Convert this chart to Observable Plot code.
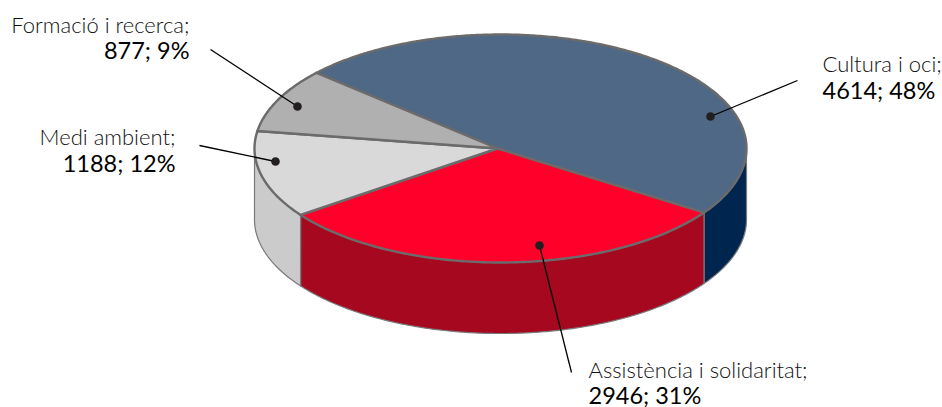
<!DOCTYPE html>
<html>
<head>
<meta charset="utf-8">
<script src="https://cdn.jsdelivr.net/npm/d3@7"></script>
<script src="https://cdn.jsdelivr.net/npm/@observablehq/plot@0.6"></script>
<style>html,body{margin:0;padding:0;background:#fff}svg{display:block}</style>
</head>
<body>
<div id="chart"></div>
<script>
// Chart data
const categories = ["Cultura i oci", "Assistència i solidaritat", "Medi ambient", "Formació i recerca"];
const values = [4614, 2946, 1188, 877];
const percents = [48, 31, 12, 9];

// Styles
const topColors = ["#4F6885", "#FF002B", "#D9D9D9", "#B0B0B0"];
const wallColors = ["#00264F", "#A5081F", "#CBCBCB", "#8C8C8C"];

// Layout (annotation placement in page pixels, per category)
const leaderDots = [[710, 116], [539, 245], [275, 161], [297, 106]];
const leaderEnds = [[797, 80], [571, 372], [199, 145], [210, 49]];
const labelAnchors = ["start", "start", "end", "end"];
const labelX = [822, 588, 175, 189];
const labelBaseName = [71, 377, 144, 32];
const labelBaseValue = [98, 403, 171, 58];

// The pie is laid out on a unit disc; the x and y scales squash it to the ellipse.
const left = 254, right = 746, top_ = 34, bottom = 262;
const depth = 0.623;              // wall height in unit-disc terms
const vertexX = -0.012;           // the slices meet just left of the disc's centre
const startAngle = -48.4 * Math.PI / 180;
const ux = (px) => -1 + 2 * (px - left) / (right - left);
const uy = (py) => -1 + 2 * (py - top_) / (bottom - top_);

const arcs = d3.pie().sort(null).startAngle(startAngle).endAngle(startAngle + 2 * Math.PI)(values);
const rim = (a, dy = 0) => ({x: Math.sin(a), y: -Math.cos(a) + dy});
const sweep = (a0, a1, dy = 0) => {
  const n = Math.max(2, Math.ceil(Math.abs(a1 - a0) / 0.01));
  return d3.range(n + 1).map((i) => rim(a0 + (a1 - a0) * i / n, dy));
};

const topSlice = (arc) => [{x: vertexX, y: 0}, ...sweep(arc.startAngle, arc.endAngle), {x: vertexX, y: 0}];

// Front half of the rim runs from 90° to 270° (mod 360)
const wallPoly = (arc) => {
  const a0 = Math.max(arc.startAngle, Math.PI / 2);
  const a1 = Math.min(arc.endAngle, 3 * Math.PI / 2);
  if (a1 <= a0) return null;
  const upper = sweep(a0, a1);
  const lower = sweep(a1, a0, depth);
  return [...upper, ...lower, upper[0]];
};

const xy = {x: "x", y: "y"};
const walls = arcs.flatMap((arc, i) => {
  const poly = wallPoly(arc);
  return poly ? [Plot.line(poly, {...xy, fill: wallColors[i], stroke: "#7A7A7A", strokeWidth: 1.2})] : [];
});
const tops = arcs.map((arc, i) =>
  Plot.line(topSlice(arc), {...xy, fill: topColors[i], stroke: "#6B6B6B", strokeWidth: 2.4})
);

const labels = categories.map((name, i) => ({
  name: name + ";",
  value: `${values[i]}; ${percents[i]}%`,
  anchor: labelAnchors[i],
  x: ux(labelX[i]),
  yName: uy(labelBaseName[i]),
  yValue: uy(labelBaseValue[i]),
  x1: ux(leaderEnds[i][0]), y1: uy(leaderEnds[i][1]),
  x2: ux(leaderDots[i][0]), y2: uy(leaderDots[i][1])
}));
const byAnchor = (a) => labels.filter((d) => d.anchor === a);

const textMarks = ["start", "end"].flatMap((a) => [
  Plot.text(byAnchor(a), {x: "x", y: "yName", text: "name", textAnchor: a, lineAnchor: "bottom",
    fontSize: 22, fontWeight: 300, fill: "#111"}),
  Plot.text(byAnchor(a), {x: "x", y: "yValue", text: "value", textAnchor: a, lineAnchor: "bottom",
    fontSize: 23.5, fontWeight: 400, fill: "#000"})
]);

const chart = Plot.plot({
  width: 942,
  height: 407,
  margin: 0,
  style: {fontFamily: "Lato, sans-serif", background: "#fff", overflow: "hidden"},
  x: {domain: [-1, 1], range: [left, right], axis: null},
  y: {domain: [-1, 1], range: [top_, bottom], axis: null},
  marks: [
    ...walls,
    ...tops,
    Plot.link(labels, {x1: "x1", y1: "y1", x2: "x2", y2: "y2", stroke: "#000", strokeWidth: 1.3}),
    Plot.dot(labels, {x: "x2", y: "y2", r: 4.3, fill: "#231F20", stroke: "none"}),
    ...textMarks
  ]
});
document.getElementById("chart").append(chart);
</script>
</body>
</html>
